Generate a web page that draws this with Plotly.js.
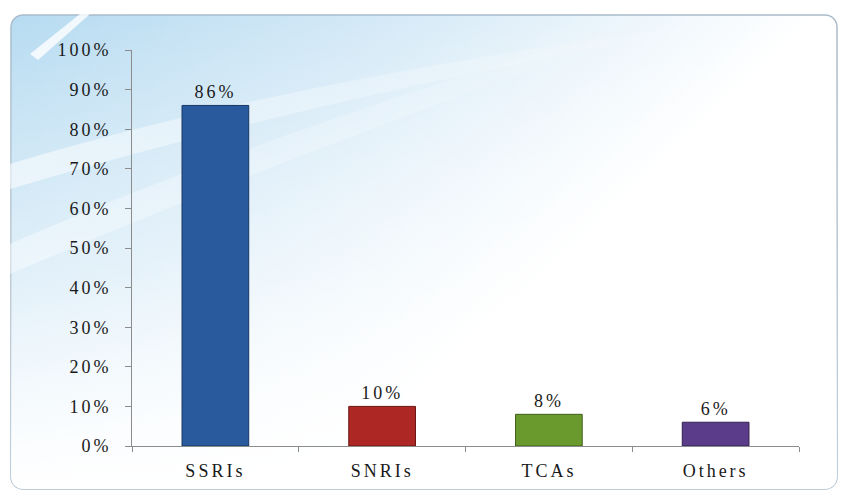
<!DOCTYPE html>
<html>
<head>
<meta charset="utf-8">
<script src="https://cdn.plot.ly/plotly-3.0.1.min.js"></script>
<style>html,body{margin:0;padding:0;background:#fff;}#chart{width:843px;height:502px;}#chart text{letter-spacing:3px;}</style>
</head>
<body>
<div id="chart"></div>
<script>
const categories = ["SSRIs", "SNRIs", "TCAs", "Others"];
const values = [86, 10, 8, 6];
const valueLabels = ["86%", "10%", "8%", "6%"];
const barColors = ["#2a5a9e", "#ad2824", "#6a9a2e", "#5a3c8a"];
const barLines = ["#163765", "#6a1411", "#40601b", "#33214d"];
const yTickVals = [0, 10, 20, 30, 40, 50, 60, 70, 80, 90, 100];
const yTickText = ["0%", "10%", "20%", "30%", "40%", "50%", "60%", "70%", "80%", "90%", "100%"];

const W = 843, H = 502;
const m = {l: 132, r: 44, t: 50, b: 56};
const pw = W - m.l - m.r, ph = H - m.t - m.b;
function px(x) { return (x - m.l) / pw; }
function py(y) { return (H - m.b - y) / ph; }

const bgSvg = '<svg xmlns="http://www.w3.org/2000/svg" width="828" height="476" viewBox="0 0 828 476">' +
  '<defs>' +
  '<linearGradient id="g" x1="0" y1="0" x2="1" y2="0.6">' +
  '<stop offset="0" stop-color="#b6dbf1"/>' +
  '<stop offset="0.35" stop-color="#d6eaf7"/>' +
  '<stop offset="0.72" stop-color="#ffffff"/>' +
  '<stop offset="1" stop-color="#ffffff"/></linearGradient>' +
  '<linearGradient id="s" x1="0" y1="0" x2="1" y2="0">' +
  '<stop offset="0" stop-color="#ffffff" stop-opacity="0.9"/>' +
  '<stop offset="1" stop-color="#ffffff" stop-opacity="0"/></linearGradient>' +
  '<linearGradient id="b" x1="0" y1="0" x2="0" y2="1">' +
  '<stop offset="0" stop-color="#ffffff" stop-opacity="0"/>' +
  '<stop offset="0.55" stop-color="#ffffff" stop-opacity="0.4"/>' +
  '<stop offset="1" stop-color="#ffffff" stop-opacity="1"/></linearGradient>' +
  '</defs>' +
  '<rect x="1" y="1" width="826" height="474" rx="12" ry="12" fill="url(#g)" stroke="#a9bccb" stroke-width="1.5"/>' +
  '<path d="M0 150 Q 300 60 700 10 L 720 10 Q 320 80 0 175 Z" fill="url(#s)" opacity="0.6"/>' +
  '<path d="M0 230 Q 250 120 620 10 L 650 10 Q 280 140 0 260 Z" fill="url(#s)" opacity="0.45"/>' +
  '<path d="M20 40 L 70 0 L 80 0 L 28 46 Z" fill="#ffffff" opacity="0.8"/>' +
  '<rect x="1" y="1" width="826" height="474" rx="12" ry="12" fill="url(#b)"/>' +
  '</svg>';

const data = [{
  type: "bar",
  x: categories,
  y: values,
  width: 0.4,
  marker: {color: barColors, line: {color: barLines, width: 1}},
  text: valueLabels,
  textposition: "outside",
  textfont: {family: "Liberation Serif, Times New Roman, serif", size: 18, color: "#1a1a1a"},
  cliponaxis: false,
  hoverinfo: "skip"
}];

const layout = {
  width: W, height: H,
  margin: m,
  paper_bgcolor: "#ffffff",
  plot_bgcolor: "rgba(0,0,0,0)",
  showlegend: false,
  bargap: 0.6,
  font: {family: "Liberation Serif, Times New Roman, serif", size: 18, color: "#1a1a1a"},
  xaxis: {
    type: "category",
    showgrid: false,
    showline: true, linecolor: "#8c8c8c", linewidth: 1,
    ticks: "outside", tickson: "boundaries", ticklen: 5, tickcolor: "#8c8c8c",
    ticklabelstandoff: 8,
    tickfont: {family: "Liberation Serif, Times New Roman, serif", size: 18, color: "#1a1a1a"},
    range: [-0.5, 3.5],
    fixedrange: true
  },
  yaxis: {
    range: [0, 100],
    tickvals: yTickVals,
    ticktext: yTickText,
    showgrid: false, zeroline: false,
    showline: true, linecolor: "#8c8c8c", linewidth: 1,
    ticks: "outside", ticklen: 6, tickcolor: "#8c8c8c",
    ticklabelstandoff: 10,
    tickfont: {family: "Liberation Serif, Times New Roman, serif", size: 18, color: "#1a1a1a"},
    fixedrange: true
  },
  images: [{
    source: "data:image/svg+xml;charset=utf-8," + encodeURIComponent(bgSvg),
    xref: "paper", yref: "paper",
    x: px(10), y: py(14),
    sizex: px(838) - px(10), sizey: py(14) - py(490),
    xanchor: "left", yanchor: "top",
    sizing: "stretch", layer: "below"
  }]
};

Plotly.newPlot("chart", data, layout, {displayModeBar: false, staticPlot: true});
</script>
</body>
</html>
